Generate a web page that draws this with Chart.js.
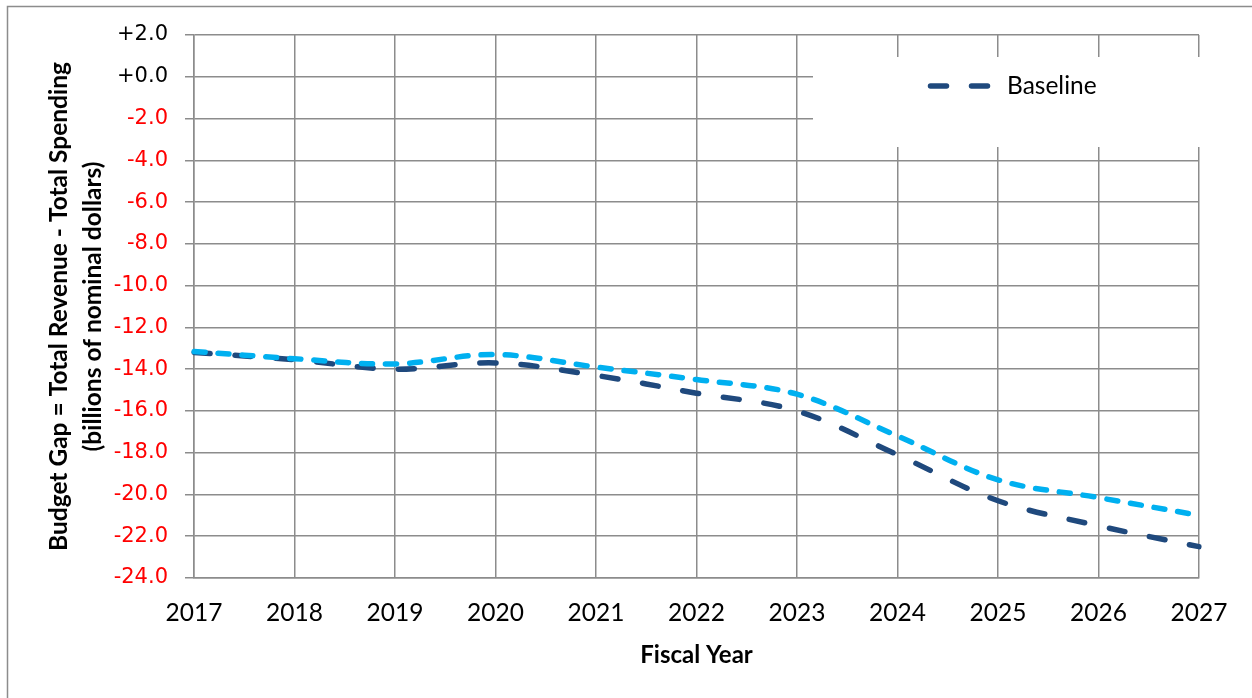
<!DOCTYPE html>
<html>
<head>
<meta charset="utf-8">
<title>Budget Gap</title>
<script src="https://cdn.jsdelivr.net/npm/chart.js@4.4.1/dist/chart.umd.min.js"></script>
<style>
  html, body { margin: 0; padding: 0; background: #fff; }
  #wrap { width: 1252px; height: 698px; }
</style>
</head>
<body>
<div id="wrap"><canvas id="gapChart" width="1252" height="698"></canvas></div>
<script>
'use strict';

// ── Data ───────────────────────────────────────────────────────────────────────
const years = ['2017', '2018', '2019', '2020', '2021', '2022', '2023', '2024', '2025', '2026', '2027'];
const baseline = [-13.2, -13.55, -14.0, -13.7, -14.3, -15.15, -16.0, -18.1, -20.3, -21.5, -22.5];
const scenario = [-13.15, -13.5, -13.75, -13.3, -13.9, -14.5, -15.2, -17.2, -19.3, -20.15, -21.0];
const yTickValues = [2, 0, -2, -4, -6, -8, -10, -12, -14, -16, -18, -20, -22, -24];

// ── Style ──────────────────────────────────────────────────────────────────────
const GRID = '#8c8c8c';
const DARK = '#1f497d';
const CYAN = '#00b0f0';

// frame round the whole picture + legend box inside the plot
const framePlugin = {
  id: 'frame',
  beforeDraw(chart) {
    const c = chart.ctx;
    c.save();
    c.strokeStyle = GRID;
    c.lineWidth = 1.5;
    c.beginPath();
    c.moveTo(7.5, 698);
    c.lineTo(7.5, 6.5);
    c.lineTo(1252, 6.5);
    c.stroke();
    c.restore();
  },
  afterDraw(chart) {
    const c = chart.ctx;
    const ds = chart.data.datasets[0];
    c.save();
    c.fillStyle = '#fff';
    c.fillRect(813, 57, 390, 90);
    c.strokeStyle = ds.borderColor;
    c.lineWidth = ds.borderWidth;
    c.lineCap = 'round';
    c.setLineDash(ds.borderDash);
    c.beginPath();
    c.moveTo(930.5, 86);
    c.lineTo(992, 86);
    c.stroke();
    c.setLineDash([]);
    c.fillStyle = '#000';
    c.font = '24.5px Lato';
    c.textBaseline = 'middle';
    c.fillText(ds.label, 1007, 86);
    c.restore();
  }
};

// ── Chart ──────────────────────────────────────────────────────────────────────
const ctx = document.getElementById('gapChart').getContext('2d');

new Chart(ctx, {
  type: 'line',
  data: {
    labels: years,
    datasets: [
      {
        label: 'Baseline',
        data: baseline,
        borderColor: DARK,
        borderWidth: 5.5,
        borderDash: [16, 25],
        borderCapStyle: 'round',
        pointRadius: 0,
        tension: 0.35,
        order: 1,
      },
      {
        label: 'Scenario',
        data: scenario,
        borderColor: CYAN,
        borderWidth: 5.5,
        borderDash: [11, 13],
        borderCapStyle: 'round',
        pointRadius: 0,
        tension: 0.35,
        order: 0,
      },
    ],
  },
  options: {
    responsive: false,
    animation: false,
    devicePixelRatio: 1,
    layout: { padding: { top: 35, right: 53, bottom: 0, left: 0 } },
    plugins: {
      legend: { display: false },
      tooltip: { enabled: false },
    },
    scales: {
      x: {
        offset: false,
        afterFit: s => { s.height = 120; },
        grid: { color: GRID, lineWidth: 1.5, drawTicks: false },
        border: { color: GRID, width: 1.5 },
        ticks: {
          color: '#000',
          padding: 20,
          maxRotation: 0,
          font: { family: 'Lato', size: 24.5 },
        },
        title: {
          display: true,
          text: 'Fiscal Year',
          color: '#000',
          font: { family: 'Lato', size: 24, weight: 'bold', lineHeight: 1.2 },
          padding: { top: 0, bottom: 28 },
        },
      },
      y: {
        min: -24,
        max: 2,
        afterFit: s => { s.width = 194; },
        afterBuildTicks: s => { s.ticks = yTickValues.map(v => ({ value: v })); },
        grid: { color: GRID, lineWidth: 1.5, tickLength: 9 },
        border: { color: GRID, width: 1.5 },
        ticks: {
          padding: 17,
          color: c => (c.tick && c.tick.value >= 0 ? '#000' : '#ff0000'),
          font: { family: 'DejaVu Sans', size: 21 },
          callback: v => (v >= 0 ? '+' : '') + Number(v).toFixed(1),
        },
        title: {
          display: true,
          text: ['Budget Gap = Total Revenue - Total Spending', '(billions of nominal dollars)'],
          color: '#000',
          font: { family: 'Lato', size: 24.5, weight: 'bold', lineHeight: 1.35 },
          padding: { top: 43, bottom: 0 },
        },
      },
    },
  },
  plugins: [framePlugin],
});
</script>
</body>
</html>
